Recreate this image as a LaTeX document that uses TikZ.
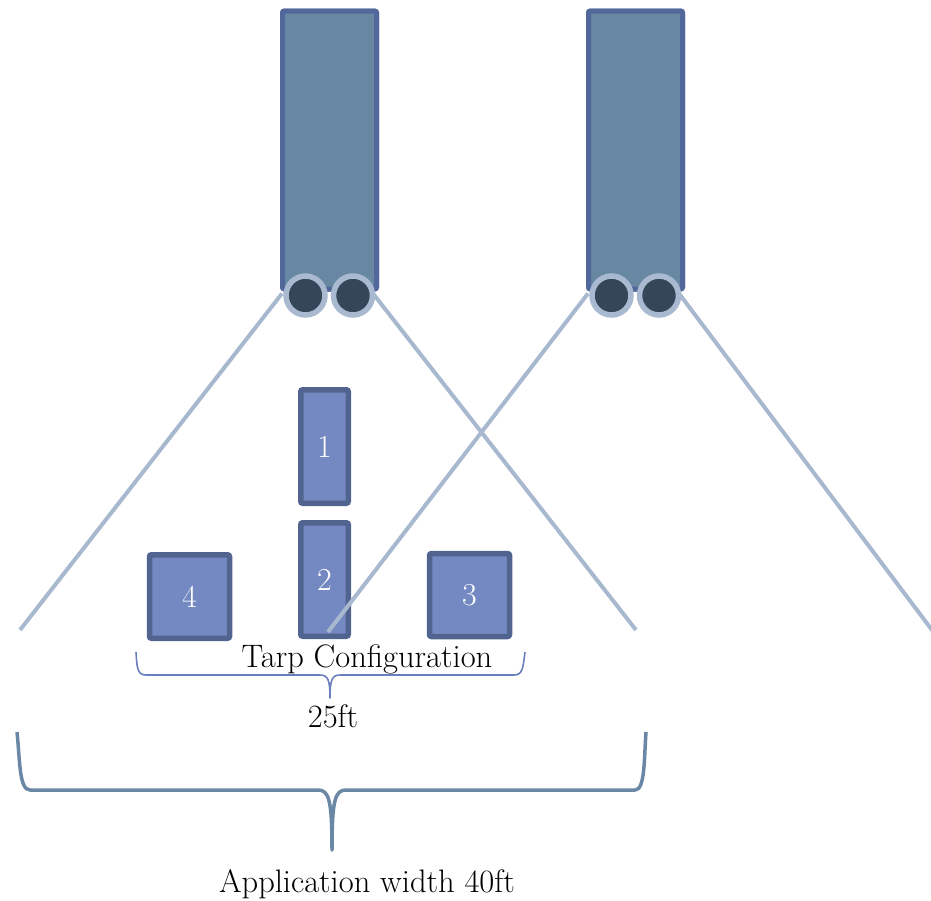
\documentclass[tikz,border=0pt]{standalone}
\definecolor{towerfill}{HTML}{6787A3}
\definecolor{towerline}{HTML}{52679A}
\definecolor{tarpfill}{HTML}{7489C2}
\definecolor{tarpline}{HTML}{51648F}
\definecolor{ringcol}{HTML}{A9BAD0}
\definecolor{rollerfill}{HTML}{344759}
\definecolor{spraycol}{HTML}{A8B9CF}
\definecolor{smallbrace}{HTML}{6A80BC}
\definecolor{bigbrace}{HTML}{6A87A6}
\begin{document}
\begin{tikzpicture}[x=1pt,y=-1pt,
  tower/.style={draw=towerline, fill=towerfill, line width=5pt, rounded corners=2pt,
    minimum width=94pt, minimum height=278pt, inner sep=0pt},
  roller/.style={circle, draw=ringcol, fill=rollerfill, line width=5.5pt,
    minimum size=39pt, inner sep=0pt},
  tarp/.style={draw=tarpline, fill=tarpfill, line width=5.5pt, rounded corners=2pt,
    inner sep=0pt, text=white, font=\fontsize{32}{38}\selectfont},
  spray/.style={draw=spraycol, line width=4pt},
  label/.style={font=\fontsize{32.5}{38}\selectfont, text=black, inner sep=0pt, anchor=base}
]
\useasboundingbox (0,0) rectangle (931,900);
\clip (0,0) rectangle (931,900);

% tarps laid out on the ground
\node[tarp, minimum width=47.5pt, minimum height=113.5pt] (tarp1) at (324.5,446.5) {1};
\node[tarp, minimum width=47.5pt, minimum height=113.5pt] (tarp2) at (324.5,579.5) {2};
\node[tarp, minimum width=80pt, minimum height=83.5pt] (tarp4) at (189.5,596.5) {4};
\node[tarp, minimum width=80pt, minimum height=83pt] (tarp3) at (469.5,595) {3};

% towers
\node[tower] (tower1) at (329.5,150) {};
\node[tower] (tower2) at (635.5,150) {};

% spray cone end points
\coordinate (s1l) at (20,630);
\coordinate (s1r) at (636,630);
\coordinate (s2l) at (328,632);
\coordinate (s2r) at (944,646);

% spray cones
\draw[spray] ([xshift=2pt,yshift=-2pt]tower1.south west) -- (s1l);
\draw[spray] ([xshift=-6pt,yshift=-2pt]tower1.south east) -- (s1r);
\draw[spray] ([xshift=2pt,yshift=-2pt]tower2.south west) -- (s2l);
\draw[spray] ([xshift=-6pt,yshift=-2pt]tower2.south east) -- (s2r);

% redraw tower bottoms over the spray lines
\node[tower] at (329.5,150) {};
\node[tower] at (635.5,150) {};

% rollers
\node[roller] (r1a) at (305.5,295.5) {};
\node[roller] (r1b) at (353,295.5) {};
\node[roller] (r2a) at (611.5,295.5) {};
\node[roller] (r2b) at (659,295.5) {};

% small brace: tarp configuration width
\draw[smallbrace, line width=1.6pt, line join=round]
  (136,652) .. controls (137,667) and (137,675) .. (146,675)
  -- (320,675) .. controls (328,675) and (330,680) .. (330,698)
  .. controls (330,680) and (332,675) .. (340,675)
  -- (514,675) .. controls (523,675) and (523,667) .. (525,652);
\node[label] (tarplbl) at (367,667) {Tarp Configuration};
\node[label] (dim25) at (333,727) {25ft};

% big brace: application width
\draw[bigbrace, line width=3.5pt, line join=round]
  (17,732) .. controls (20,760) and (19,790) .. (30,790)
  -- (318,790) .. controls (329,790) and (332,800) .. (332,850)
  .. controls (332,800) and (335,790) .. (346,790)
  -- (635,790) .. controls (645,790) and (644,760) .. (646,732);
\node[label] (applbl) at (367,892) {Application width 40ft};
\end{tikzpicture}
\end{document}
